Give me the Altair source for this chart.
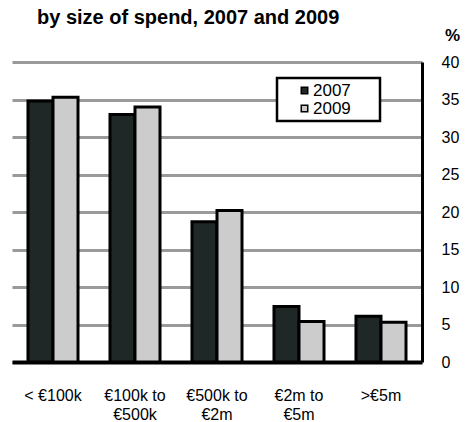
import altair as alt
import pandas as pd

title_text = "by size of spend, 2007 and 2009"
categories = ["< €100k", "€100k to|€500k", "€500k to|€2m", "€2m to|€5m", ">€5m"]
years = ["2007", "2009"]
values_2007 = [34.8, 33.0, 18.7, 7.4, 6.1]
values_2009 = [35.3, 34.0, 20.2, 5.4, 5.3]
y_ticks = [0, 5, 10, 15, 20, 25, 30, 35, 40]

rows = []
for c, a, b in zip(categories, values_2007, values_2009):
    rows.append({"cat": c, "year": "2007", "value": a})
    rows.append({"cat": c, "year": "2009", "value": b})
df = pd.DataFrame(rows)

FONT = "Liberation Sans"

bars = alt.Chart(df).mark_bar(stroke="black", strokeWidth=3).encode(
    x=alt.X("cat:N", sort=categories,
            scale=alt.Scale(paddingInner=0.39, paddingOuter=0.195),
            axis=alt.Axis(title=None, labelAngle=0, labelExpr="split(datum.label, '|')",
                          ticks=False, labelPadding=25, labelFontSize=16, labelLineHeight=19,
                          labelFont=FONT, labelColor="black", domainColor="black",
                          domainWidth=4, grid=False)),
    xOffset=alt.XOffset("year:N", sort=years, scale=alt.Scale(paddingInner=0, paddingOuter=0)),
    y=alt.Y("value:Q", scale=alt.Scale(domain=[0, 40], nice=False),
            axis=alt.Axis(orient="right", values=y_ticks, title="%", titleAngle=0,
                          titleX=30, titleY=-22, titleAlign="center", titleBaseline="alphabetic",
                          titleFontSize=17, titleFontWeight="bold", titleFont=FONT, titleColor="black",
                          ticks=False, labelPadding=19, labelAlign="left", labelBaseline="middle",
                          labelFontSize=16, labelFont=FONT, labelColor="black",
                          grid=True, gridColor="#9a9a9a", gridWidth=3,
                          domainColor="black", domainWidth=3)),
    color=alt.Color("year:N", scale=alt.Scale(domain=years, range=["#1f2727", "#cccccc"]),
                    legend=alt.Legend(orient="none", legendX=265, legendY=16,
                                      title="00", titleOrient="right", titleColor="transparent",
                                      titleFontSize=17, titlePadding=6,
                                      padding=4, rowPadding=0, labelFontSize=17, labelFont=FONT,
                                      labelColor="black", labelOffset=0,
                                      symbolType="square", symbolSize=42, symbolOffset=15,
                                      symbolStrokeColor="black", symbolStrokeWidth=1.5,
                                      strokeColor="black", fillColor="white"))
)

title = alt.Chart(pd.DataFrame({"t": [title_text]})).mark_text(
    align="left", baseline="alphabetic", fontSize=20, fontWeight="bold", font=FONT, color="black"
).encode(text="t:N", x=alt.value(25), y=alt.value(-38))

chart = alt.layer(bars, title).properties(
    width=410, height=300,
    autosize=alt.AutoSizeParams(type="none"),
    padding={"left": 4, "top": 54, "right": 38, "bottom": 60},
).configure_view(stroke=None).configure_legend(strokeWidth=2.5)

chart.save("out.html", embed_options={"renderer": "svg", "actions": False})
